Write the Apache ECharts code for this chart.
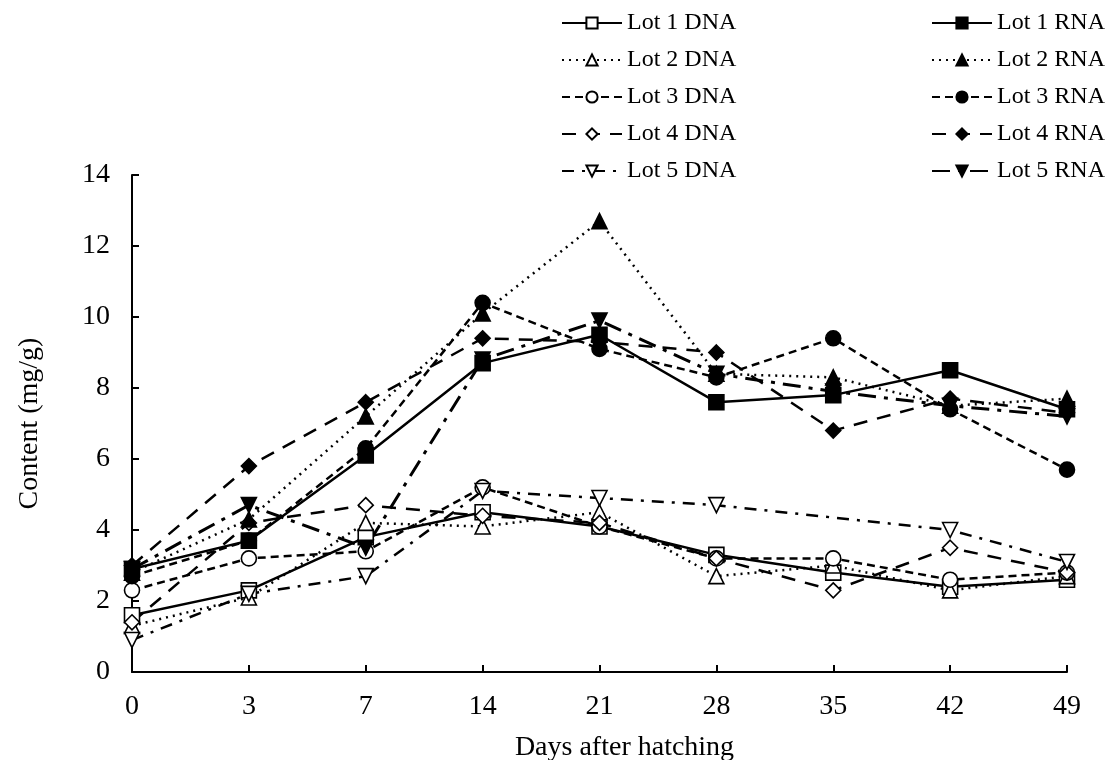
<!DOCTYPE html>
<html>
<head>
<meta charset="utf-8">
<script src="https://cdn.jsdelivr.net/npm/echarts@6/dist/echarts.min.js"></script>
<style>html,body{margin:0;padding:0;background:#fff;}#c{width:1113px;height:760px;}</style>
</head>
<body>
<div id="c"></div>
<script>
const days = ['0','3','7','14','21','28','35','42','49'];
const lot1DNA = [1.6, 2.3, 3.8, 4.5, 4.1, 3.3, 2.8, 2.4, 2.6];
const lot2DNA = [1.3, 2.1, 4.2, 4.1, 4.5, 2.7, 3.0, 2.3, 2.7];
const lot3DNA = [2.3, 3.2, 3.4, 5.2, 4.1, 3.2, 3.2, 2.6, 2.8];
const lot4DNA = [1.4, 4.2, 4.7, 4.4, 4.2, 3.2, 2.3, 3.5, 2.8];
const lot5DNA = [0.9, 2.2, 2.7, 5.1, 4.9, 4.7, null, 4.0, 3.1];
const lot1RNA = [2.9, 3.7, 6.1, 8.7, 9.5, 7.6, 7.8, 8.5, 7.4];
const lot2RNA = [2.8, 4.3, 7.2, 10.1, 12.7, 8.4, 8.3, 7.5, 7.7];
const lot3RNA = [2.7, 3.7, 6.3, 10.4, 9.1, 8.3, 9.4, 7.4, 5.7];
const lot4RNA = [3.0, 5.8, 7.6, 9.4, 9.3, 9.0, 6.8, 7.7, 7.3];
const lot5RNA = [2.9, 4.7, 3.5, 8.8, 9.9, 8.4, 7.9, 7.5, 7.2];

const FONT = '"Liberation Serif", "Times New Roman", serif';

function mk(name, data, symbol, filled, dash, width, rotate) {
  return {
    name: name, type: 'line', data: data,
    symbol: symbol, symbolSize: 15, symbolRotate: rotate || 0,
    connectNulls: true,
    lineStyle: { color: '#000', width: width, type: dash, cap: 'butt' },
    itemStyle: { color: filled ? '#000' : '#fff', borderColor: '#000', borderWidth: 1.6 },
    emphasis: { disabled: true },
    animation: false
  };
}

const series = [
  mk('Lot 1 DNA', lot1DNA, 'rect', false, 'solid', 2.5),
  mk('Lot 2 DNA', lot2DNA, 'triangle', false, [2, 5], 2.5),
  mk('Lot 3 DNA', lot3DNA, 'circle', false, [8, 5], 2.5),
  mk('Lot 4 DNA', lot4DNA, 'diamond', false, [14, 10], 2.5),
  mk('Lot 5 DNA', lot5DNA, 'triangle', false, [12, 8, 3, 8], 2.5, 180),
  mk('Lot 1 RNA', lot1RNA, 'rect', true, 'solid', 2.5),
  mk('Lot 2 RNA', lot2RNA, 'triangle', true, [2, 5], 2.5),
  mk('Lot 3 RNA', lot3RNA, 'circle', true, [8, 5], 2.5),
  mk('Lot 4 RNA', lot4RNA, 'diamond', true, [14, 10], 2.5),
  mk('Lot 5 RNA', lot5RNA, 'triangle', true, [18, 8, 4, 8], 3, 180)
];

const legendBase = {
  orient: 'vertical', top: 6, itemWidth: 60, itemHeight: 14, itemGap: 13,
  textStyle: { fontFamily: FONT, fontSize: 24, color: '#000' },
  selectedMode: false
};

const chart = echarts.init(document.getElementById('c'), null, { renderer: 'canvas' });
chart.setOption({
  backgroundColor: '#fff',
  animation: false,
  textStyle: { fontFamily: FONT },
  legend: [
    Object.assign({}, legendBase, { left: 556, data: ['Lot 1 DNA','Lot 2 DNA','Lot 3 DNA','Lot 4 DNA','Lot 5 DNA'] }),
    Object.assign({}, legendBase, { right: 3, data: ['Lot 1 RNA','Lot 2 RNA','Lot 3 RNA','Lot 4 RNA','Lot 5 RNA'] })
  ],
  grid: { left: 132, right: 46, top: 175, bottom: 88, containLabel: false, outerBoundsMode: 'none' },
  xAxis: {
    type: 'category', data: days, boundaryGap: false,
    name: 'Days after hatching', nameLocation: 'middle', nameGap: 62,
    nameTextStyle: { fontFamily: FONT, fontSize: 28, color: '#000', padding: [0, 0, 0, 50] },
    axisLine: { lineStyle: { color: '#000', width: 2 } },
    axisTick: { inside: true, length: 7, lineStyle: { color: '#000', width: 2 }, alignWithLabel: true },
    axisLabel: { fontFamily: FONT, fontSize: 28, color: '#000', margin: 21 },
    splitLine: { show: false }
  },
  yAxis: {
    type: 'value', min: 0, max: 14, interval: 2,
    name: 'Content (mg/g)', nameLocation: 'middle', nameGap: 88, nameRotate: 90,
    nameTextStyle: { fontFamily: FONT, fontSize: 28, color: '#000' },
    axisLine: { show: true, lineStyle: { color: '#000', width: 2 } },
    axisTick: { show: true, inside: true, length: 7, lineStyle: { color: '#000', width: 2 } },
    axisLabel: { fontFamily: FONT, fontSize: 28, color: '#000', margin: 22 },
    splitLine: { show: false }
  },
  series: series
});
</script>
</body>
</html>
